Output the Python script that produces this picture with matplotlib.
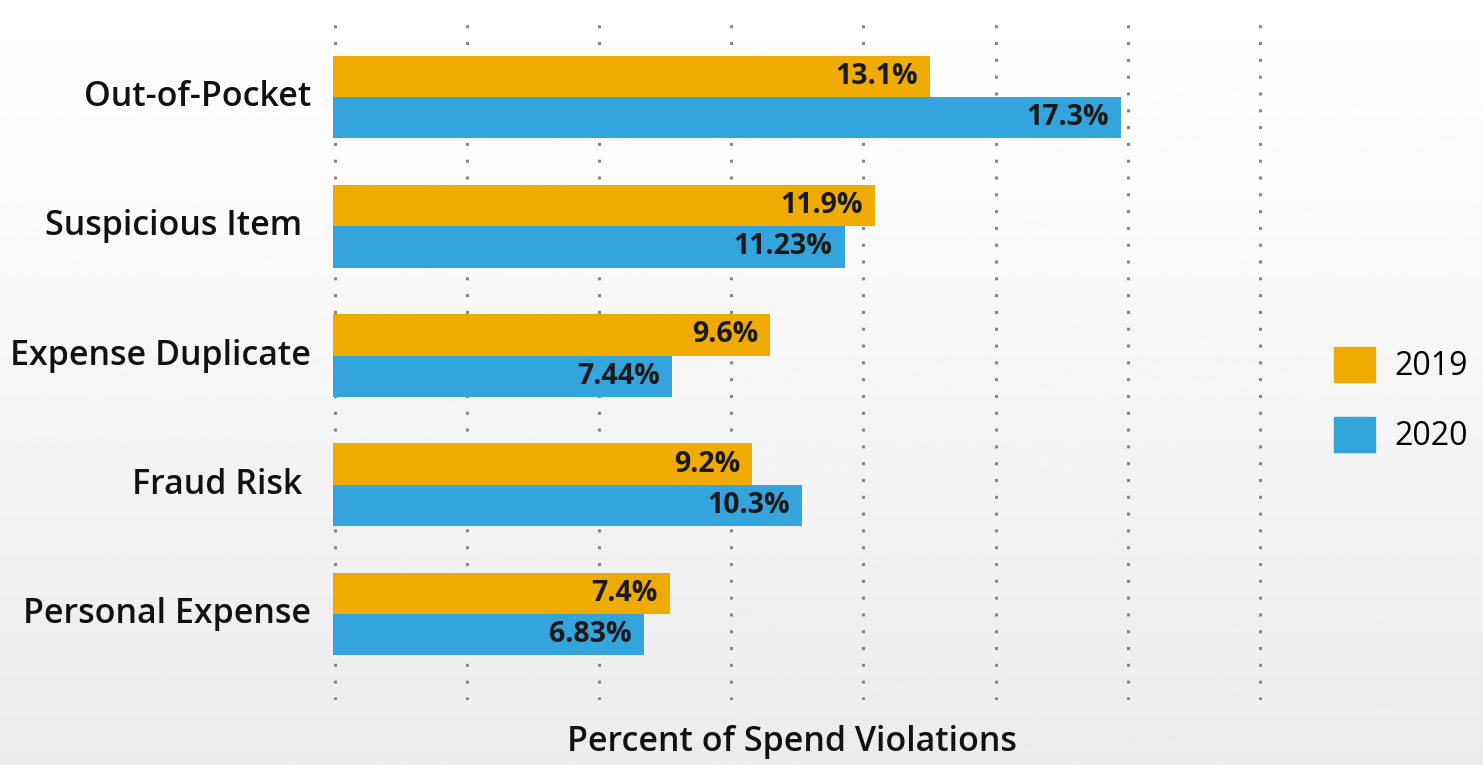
import numpy as np
import matplotlib.pyplot as plt
from matplotlib.patches import Patch

categories = ['Out-of-Pocket', 'Suspicious Item ', 'Expense Duplicate', 'Fraud Risk ', 'Personal Expense']
vals_2019 = [13.1, 11.9, 9.6, 9.2, 7.4]
vals_2020 = [17.3, 11.23, 7.44, 10.3, 6.83]
labels_2019 = ['13.1%', '11.9%', '9.6%', '9.2%', '7.4%']
labels_2020 = ['17.3%', '11.23%', '7.44%', '10.3%', '6.83%']
years = ['2019', '2020']

c19 = '#efab00'
c20 = '#34a4dc'
plt.rcParams['font.family'] = ['Open Sans', 'DejaVu Sans']

fig = plt.figure(figsize=(14.83, 7.65), dpi=100)

# gradient background
bg = fig.add_axes([0, 0, 1, 1], zorder=-10)
grad = np.linspace(1.0, 0.925, 256).reshape(-1, 1)
bg.imshow(grad, aspect='auto', cmap='gray', vmin=0, vmax=1, extent=[0, 1, 0, 1])
bg.axis('off')

ax = fig.add_axes([333 / 1483, 1 - 700 / 765, (1290 - 333) / 1483, 680 / 765])
ax.patch.set_alpha(0)

y = np.arange(len(categories))
h = 0.32
ax.barh(y - h / 2, vals_2019, height=h, color=c19, zorder=3)
ax.barh(y + h / 2, vals_2020, height=h, color=c20, zorder=3)

for i in range(len(categories)):
    ax.text(vals_2019[i] - 0.27, y[i] - h / 2, labels_2019[i], ha='right', va='center',
            fontsize=20.5, fontweight='bold', color='#1a1a1a', zorder=4)
    ax.text(vals_2020[i] - 0.27, y[i] + h / 2, labels_2020[i], ha='right', va='center',
            fontsize=20.5, fontweight='bold', color='#1a1a1a', zorder=4)

ax.set_xlim(0, 21)
ax.set_ylim(4.665, -0.596)
ax.set_xticks(np.arange(0, 21, 2.9) + 0.04)
ax.set_xticklabels([])
ax.tick_params(axis='x', length=0)
ax.grid(axis='x', linestyle=(0, (1, 4.5)), color='#888888', linewidth=2.2, zorder=0)
ax.set_yticks(y)
ax.set_yticklabels(categories, fontsize=24.5, fontweight='semibold', color='#111111')
ax.tick_params(axis='y', length=0, pad=16)
for lab in ax.get_yticklabels():
    lab.set_va('center')
for s in ax.spines.values():
    s.set_visible(False)

handles = [Patch(color=c19, label=years[0]), Patch(color=c20, label=years[1])]
fig.legend(handles=handles, loc='center left', bbox_to_anchor=(1305 / 1483, 1 - 400 / 765),
           frameon=False, fontsize=23, handlelength=1.3, handleheight=1.3,
           labelspacing=1.05, handletextpad=0.6)

fig.text(792 / 1483, 1 - 742 / 765, 'Percent of Spend Violations', ha='center', va='center',
         fontsize=24.5, fontweight='semibold', color='#111111')

plt.savefig('out.png', dpi=100)
